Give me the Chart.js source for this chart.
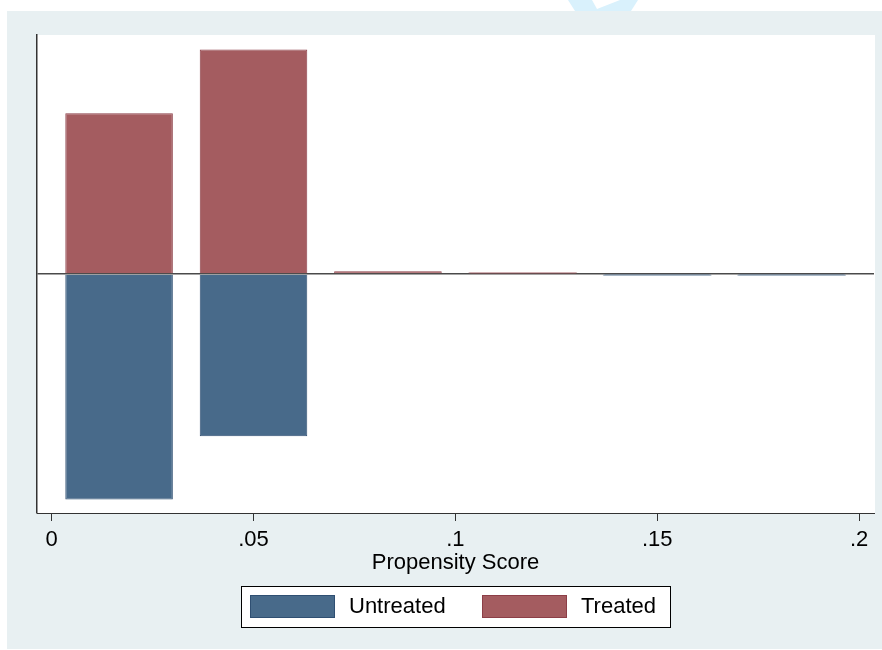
<!DOCTYPE html>
<html>
<head>
<meta charset="utf-8">
<title>Propensity Score</title>
<script src="https://cdn.jsdelivr.net/npm/chart.js@4.4.1/dist/chart.umd.min.js"></script>
<style>
  html, body { margin: 0; padding: 0; background: #ffffff; }
  #wrap { width: 882px; height: 650px; }
</style>
</head>
<body>
<div id="wrap"><canvas id="c" width="882" height="650"></canvas></div>
<script>
// Histogram bins (centres on the propensity-score axis)
const binCenters = [0.0167, 0.05, 0.0833, 0.1167, 0.15, 0.1833];
// Share of each group falling into each bin
const treatedShare   = [0.413, 0.577, 0.007, 0.002, 0.0, 0.0];
const untreatedShare = [0.579, 0.417, 0.0, 0.0, 0.002, 0.002];
// Axis ticks
const xTickValues = [0, 0.05, 0.1, 0.15, 0.2];
const xTickLabels = ['0', '.05', '.1', '.15', '.2'];
const seriesNames = ['Untreated', 'Treated'];

const FONT = 'Liberation Sans, Arial, Helvetica, sans-serif';

// Very short bars get a slightly thicker outline so they stay visible on the zero line
const inflate = ctx => (ctx.raw && Math.abs(ctx.raw.y) > 0 && Math.abs(ctx.raw.y) < 0.005) ? 0.7 : 'auto';

// Page / graph-region background and plot-area fill
const backdrop = {
  id: 'backdrop',
  beforeDraw(chart) {
    const { ctx, chartArea: a } = chart;
    ctx.save();
    ctx.fillStyle = '#ffffff';
    ctx.fillRect(0, 0, chart.width, chart.height);
    // faint logo fragment at the top edge
    ctx.fillStyle = '#d9f1fc';
    ctx.beginPath();
    ctx.moveTo(568, 0); ctx.lineTo(592, 0); ctx.lineTo(597, 9);
    ctx.lineTo(620, 0); ctx.lineTo(638, 0); ctx.lineTo(631, 11);
    ctx.lineTo(575, 11); ctx.closePath(); ctx.fill();
    ctx.fillStyle = '#e8f0f2';
    ctx.fillRect(7, 11, chart.width - 7, 638);
    ctx.fillStyle = '#ffffff';
    ctx.fillRect(a.left, a.top, a.right - a.left + 1, a.bottom - a.top);
    ctx.restore();
  }
};

// Boxed legend below the axis title
const boxLegend = {
  id: 'boxLegend',
  afterDraw(chart) {
    const { ctx } = chart;
    const ds = chart.data.datasets;
    ctx.save();
    ctx.fillStyle = '#ffffff';
    ctx.fillRect(241, 586, 429, 41);
    ctx.strokeStyle = '#000000';
    ctx.lineWidth = 1;
    ctx.strokeRect(241.5, 586.5, 429, 41);
    const swX = [250, 482];
    ctx.font = '22px ' + FONT;
    ctx.textBaseline = 'middle';
    ctx.textAlign = 'left';
    ds.forEach((d, i) => {
      ctx.fillStyle = d.backgroundColor;
      ctx.fillRect(swX[i], 595, 85, 23);
      ctx.strokeStyle = d.borderColor;
      ctx.strokeRect(swX[i] + 0.5, 595.5, 84, 22);
      ctx.fillStyle = '#000000';
      ctx.fillText(d.label, swX[i] + 99, 607);
    });
    ctx.restore();
  }
};

const chart = new Chart(document.getElementById('c'), {
  type: 'bar',
  data: {
    datasets: [
      {
        label: seriesNames[0],
        data: binCenters.map((x, i) => ({ x: x, y: -untreatedShare[i] })),
        backgroundColor: '#486a8a',
        borderColor: '#2f4f72',
        borderWidth: 1,
        inflateAmount: inflate,
        grouped: false,
        barPercentage: 0.8,
        categoryPercentage: 1.0
      },
      {
        label: seriesNames[1],
        data: binCenters.map((x, i) => ({ x: x, y: treatedShare[i] })),
        backgroundColor: '#a45c60',
        borderColor: '#8c3e47',
        borderWidth: 1,
        inflateAmount: inflate,
        grouped: false,
        barPercentage: 0.8,
        categoryPercentage: 1.0
      }
    ]
  },
  options: {
    responsive: false,
    animation: false,
    devicePixelRatio: 1,
    layout: { padding: { top: 35, left: 37, right: 8, bottom: 74 } },
    plugins: {
      legend: { display: false },
      tooltip: { enabled: false }
    },
    scales: {
      x: {
        type: 'linear',
        offset: false,
        min: -0.00363,
        max: 0.2037,
        afterBuildTicks(scale) {
          scale.ticks = xTickValues.map(v => ({ value: v }));
        },
        afterFit(scale) { scale.height = 63; },
        ticks: {
          autoSkip: false,
          maxRotation: 0,
          padding: 6,
          color: '#000000',
          font: { family: FONT, size: 22 },
          callback(value) {
            const i = xTickValues.findIndex(v => Math.abs(v - value) < 1e-9);
            return i >= 0 ? xTickLabels[i] : '';
          }
        },
        grid: {
          display: true,
          offset: false,
          drawOnChartArea: false,
          drawTicks: true,
          tickLength: 8,
          color: '#333333',
          lineWidth: 1
        },
        border: { display: true, color: '#333333', width: 1 },
        title: {
          display: true,
          text: 'Propensity Score',
          color: '#000000',
          font: { family: FONT, size: 22 },
          padding: 0
        }
      },
      y: {
        min: -0.614,
        max: 0.614,
        afterFit(scale) { scale.width = 0; },
        ticks: { display: false, stepSize: 0.1 },
        grid: {
          display: true,
          drawOnChartArea: true,
          drawTicks: false,
          lineWidth: 1.5,
          color(ctx) {
            return ctx.tick && Math.abs(ctx.tick.value) < 1e-9 ? '#4a4a4a' : 'rgba(0,0,0,0)';
          }
        },
        border: { display: true, color: '#333333', width: 1.5 }
      }
    }
  },
  plugins: [backdrop, boxLegend]
});
</script>
</body>
</html>
